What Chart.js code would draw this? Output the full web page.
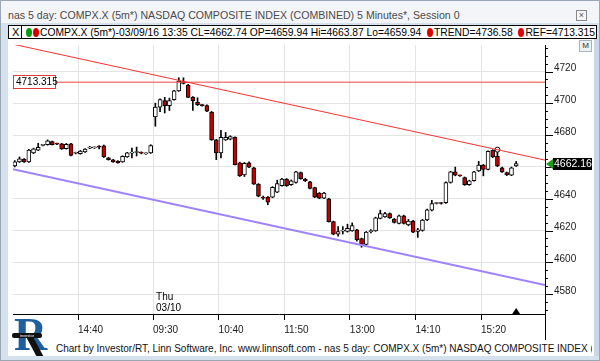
<!DOCTYPE html>
<html><head><meta charset="utf-8">
<script src="https://cdn.jsdelivr.net/npm/chart.js@4/dist/chart.umd.min.js"></script>
<style>
html,body{margin:0;padding:0;}
body{width:600px;height:361px;position:relative;overflow:hidden;background:#d5e1ed;font-family:"Liberation Sans",Arial,sans-serif;}
#outer{position:absolute;left:0;top:0;width:598px;height:359px;border:1px solid #9aa7b4;}
#titlebar{position:absolute;left:1px;top:1px;width:598px;height:22px;background:#f3f5f8;}
#title{position:absolute;left:8px;top:9px;font-size:10.6px;color:#4a4a4a;white-space:nowrap;}
#close{position:absolute;left:576px;top:10px;width:9px;height:9px;border:1px solid #888;font-size:9px;line-height:9px;text-align:center;color:#555;background:#f7f7f7;}
#legend{position:absolute;left:8px;top:25px;width:584px;height:12px;border:1px solid #000;background:#fff;font-size:10.3px;line-height:12px;white-space:nowrap;overflow:hidden;padding-left:3px;box-sizing:content-box;}
#legend .x{display:inline-block;width:9px;border-right:1px solid #000;margin-right:4px;font-size:11px;}
.dot{display:inline-block;width:6px;height:9px;border-radius:50%;vertical-align:-1px;margin-right:1px;}
#panel{position:absolute;left:8px;top:39px;width:586px;height:317px;background:#fff;}
#canvasWrap{position:absolute;left:8px;top:40px;width:586px;height:300px;}
#mbtn{position:absolute;left:579px;top:40px;width:11px;height:10px;border:1px solid #a9b4bf;background:#eef1f4;font-size:8px;line-height:10px;text-align:center;color:#333;}
#rstrip{position:absolute;left:594px;top:39px;width:5px;height:317px;background:#c9d8e8;}
#vline{position:absolute;left:545px;top:314px;width:1px;height:26px;background:#000;}
#footer{position:absolute;left:56px;top:343px;font-size:10px;color:#111;white-space:nowrap;width:536px;overflow:hidden;}
#logoR{position:absolute;left:14px;top:312px;font:bold 46px "Liberation Serif",serif;color:#1f5f9e;line-height:46px;}
#logoLeg{position:absolute;left:31px;top:336px;width:7px;height:20px;background:#111;transform:skewX(28deg);}
#logoBar{position:absolute;left:12px;top:333px;width:30px;height:5px;background:#111;border-radius:2px;font-size:4px;line-height:5px;color:#fff;text-align:center;}
</style></head>
<body>
<div id="outer"></div>
<div id="titlebar"></div>
<div id="title">nas 5 day: COMPX.X (5m*) NASDAQ COMPOSITE INDEX (COMBINED) 5 Minutes*, Session 0</div>
<div id="close">×</div>
<div id="legend"><span class="x">X</span><span class="dot" style="background:#0a9a0a;"></span><span class="dot" style="background:#d40000;"></span>COMPX.X (5m*)-03/09/16 13:35 CL=4662.74 OP=4659.94 Hi=4663.87 Lo=4659.94&nbsp;&nbsp;<span class="dot" style="background:#e00000;"></span>TREND=4736.58&nbsp;&nbsp;<span class="dot" style="background:#e00000;"></span>REF=4713.315</div>
<div id="panel"></div>
<div id="rstrip"></div>
<div id="canvasWrap"><canvas id="c" width="586" height="300"></canvas></div>
<div id="mbtn">M</div>
<div id="vline"></div>
<div id="logoR">R</div>
<div id="logoLeg"></div>
<div id="logoBar">investor</div>
<div id="footer">Chart by Investor/RT, Linn Software, Inc. www.linnsoft.com - nas 5 day: COMPX.X (5m*) NASDAQ COMPOSITE INDEX (COMBINED) 5 Minutes*, Session 0</div>
<script>
// 5-minute bars: 03/09 13:30..15:55 (30 bars) then 03/10 09:30..15:55 (78 bars)
const opens = [4660.6,4663.2,4664.9,4663.2,4668.8,4670.6,4673.6,4674.0,4675.9,4674.6,4674.5,4671.5,4674.5,4668.6,4668.3,4669.4,4671.8,4672.0,4672.6,4673.3,4665.7,4664.4,4663.6,4663.2,4666.3,4668.7,4669.1,4668.9,4668.2,4668.8,
4691.4,4697.6,4701.7,4698.6,4702.3,4707.8,4713.5,4711.5,4703.8,4700.7,4698.8,4698.6,4694.5,4677.0,4668.8,4677.0,4677.4,4678.6,4662.6,4655.0,4662.6,4659.5,4649.2,4640.6,4641.0,4641.0,4644.1,4648.2,4652.3,4648.8,
4650.2,4656.4,4652.3,4650.7,4647.0,4643.6,4640.4,4639.9,4625.6,4617.7,4619.6,4619.4,4619.8,4620.4,4614.9,4611.2,4619.3,4619.8,4627.6,4628.6,4630.7,4627.2,4624.5,4629.3,4623.5,4626.0,4619.4,4620.0,4626.6,4632.8,
4637.0,4637.2,4637.5,4650.2,4656.9,4654.5,4653.3,4648.8,4651.3,4657.5,4661.2,4658.5,4670.4,4666.7,4659.5,4656.4,4654.8,4660.6];
const highs = [4664.0,4666.3,4665.3,4671.0,4671.8,4674.9,4674.3,4677.0,4676.3,4675.0,4674.8,4674.8,4674.9,4669.3,4670.4,4671.6,4673.0,4672.6,4673.5,4673.8,4666.0,4664.8,4664.0,4667.0,4669.2,4671.9,4672.5,4669.5,4668.9,4674.0,
4700.1,4702.8,4703.8,4703.3,4708.2,4716.1,4716.1,4712.0,4704.2,4703.5,4699.3,4699.0,4694.9,4677.3,4683.1,4681.7,4679.6,4679.0,4663.0,4662.8,4663.2,4659.8,4649.5,4641.6,4641.4,4647.6,4651.7,4652.8,4652.7,4651.8,
4657.3,4656.8,4652.8,4651.0,4647.3,4643.9,4644.0,4640.3,4625.9,4622.5,4622.5,4624.0,4624.8,4620.8,4615.2,4619.4,4620.6,4628.4,4632.8,4631.5,4631.1,4627.6,4629.7,4629.7,4627.0,4626.4,4621.4,4627.0,4633.5,4639.0,
4637.6,4637.6,4650.6,4657.3,4659.9,4654.9,4653.7,4651.7,4657.3,4663.5,4661.6,4670.2,4670.8,4670.4,4659.9,4656.8,4659.9,4663.5];
const lows = [4660.0,4662.8,4662.8,4662.9,4668.3,4670.3,4673.2,4673.7,4673.8,4674.0,4671.0,4671.2,4667.0,4668.2,4668.0,4669.1,4671.5,4671.6,4671.3,4666.0,4664.3,4662.9,4662.3,4662.9,4666.0,4665.7,4666.9,4668.2,4667.8,4668.5,
4685.6,4694.7,4693.9,4695.5,4702.0,4707.5,4712.2,4703.5,4695.5,4698.6,4698.2,4694.8,4676.7,4664.6,4665.7,4676.7,4677.0,4661.2,4654.0,4654.0,4659.5,4649.0,4641.2,4639.5,4636.2,4640.6,4643.8,4647.9,4647.8,4648.4,
4649.8,4652.3,4650.8,4646.2,4640.7,4640.0,4640.0,4625.3,4617.3,4616.5,4617.8,4619.0,4619.5,4613.3,4609.5,4610.8,4618.5,4619.5,4627.3,4628.2,4627.6,4624.7,4624.1,4624.1,4623.0,4618.6,4615.7,4619.6,4626.2,4632.4,
4636.7,4636.6,4637.1,4649.8,4654.4,4654.0,4648.4,4648.4,4651.0,4657.1,4654.4,4658.1,4665.9,4660.2,4656.5,4654.6,4654.5,4660.3];
const closes = [4663.2,4665.1,4663.2,4670.6,4671.4,4672.3,4673.8,4676.5,4674.0,4674.4,4671.4,4674.2,4667.3,4668.8,4670.0,4671.2,4672.0,4672.2,4672.4,4666.3,4664.6,4663.2,4662.6,4666.7,4668.8,4668.9,4669.3,4668.7,4668.4,4673.5,
4697.6,4702.3,4698.6,4701.7,4707.8,4714.0,4712.6,4703.8,4701.7,4699.2,4698.6,4695.1,4677.0,4668.8,4678.6,4678.6,4679.1,4661.5,4654.4,4662.2,4659.9,4649.2,4641.6,4640.4,4637.9,4647.2,4649.6,4652.3,4648.2,4651.3,
4656.9,4652.7,4651.3,4646.5,4641.0,4640.4,4643.6,4625.6,4617.7,4619.4,4619.8,4621.4,4623.1,4614.3,4611.2,4619.0,4619.5,4628.0,4630.7,4630.7,4628.0,4625.1,4629.3,4624.5,4626.0,4619.0,4620.4,4626.6,4633.1,4636.9,
4637.2,4637.0,4650.2,4656.9,4654.8,4654.4,4648.8,4651.3,4656.9,4661.2,4658.5,4669.8,4666.3,4660.6,4656.9,4655.0,4659.5,4662.16];

const xTickIndex  = [14, 30, 44, 58, 72, 86, 100];
const xTickLabels = ["14:40","09:30","10:40","11:50","13:00","14:10","15:20"];
const xRange = [-0.38, 113.15];
const yRange = [4567.5, 4736.7];
const trendEnds   = [4737.2, 4664.3];   // red trend line at left / right edge
const channelEnds = [4658.6, 4585.7];   // purple channel line at left / right edge
const refLevel  = 4713.315;
const lastPrice = 4662.16;
const markerPoint = {x: 103, y: 4670.9};
const dayLabel = ["Thu", "03/10"];
const lastBarIndex = 107;

const wickData = lows.map((l, i) => ({x: i, y: [l, highs[i]]}));
const bodyData = opens.map((o, i) => ({x: i, y: [Math.min(o, closes[i]), Math.max(o, closes[i])]}));
const bodyColors = opens.map((o, i) => closes[i] >= o ? '#ffffff' : '#c40000');

const overlay = {
  id: 'overlay',
  afterDraw(chart) {
    const ctx = chart.ctx, ca = chart.chartArea;
    const xs = chart.scales.x, ys = chart.scales.y;
    ctx.save();
    ctx.strokeStyle = '#000'; ctx.lineWidth = 1;
    for (const t of ys.ticks) {
      const py = Math.round(ys.getPixelForValue(t.value)) + 0.5;
      const len = (t.value % 20 === 0) ? 8 : 3;
      ctx.beginPath(); ctx.moveTo(ca.right, py); ctx.lineTo(ca.right + len, py); ctx.stroke();
    }
    let py = Math.round(ys.getPixelForValue(refLevel));
    ctx.fillStyle = '#fff'; ctx.fillRect(ca.left + 0.5, py - 6.5, 42, 13);
    ctx.strokeStyle = '#e43b3b'; ctx.strokeRect(ca.left + 0.5, py - 6.5, 42, 13);
    ctx.fillStyle = '#000'; ctx.font = '10px "Liberation Sans"'; ctx.textBaseline = 'middle';
    ctx.fillText(refLevel.toFixed(3), ca.left + 3, py + 0.5);
    py = Math.round(ys.getPixelForValue(lastPrice));
    ctx.fillStyle = '#18a018';
    ctx.beginPath(); ctx.moveTo(ca.right + 1, py); ctx.lineTo(ca.right + 8, py - 5); ctx.lineTo(ca.right + 8, py + 5); ctx.closePath(); ctx.fill();
    ctx.fillStyle = '#000'; ctx.fillRect(ca.right + 8, py - 6, 39, 12);
    ctx.fillStyle = '#fff'; ctx.font = '10.5px "Liberation Sans"';
    ctx.fillText(lastPrice.toFixed(2), ca.right + 9, py + 0.5);
    const dx = xs.getPixelForValue(29.5) + 3;
    ctx.fillStyle = '#000'; ctx.font = '10px "Liberation Sans"'; ctx.textBaseline = 'alphabetic';
    ctx.fillText(dayLabel[0], dx, ca.bottom - 14);
    ctx.fillText(dayLabel[1], dx, ca.bottom - 3);
    const tx = xs.getPixelForValue(lastBarIndex);
    ctx.beginPath(); ctx.moveTo(tx - 4, ca.bottom); ctx.lineTo(tx + 4, ca.bottom); ctx.lineTo(tx, ca.bottom - 6); ctx.closePath(); ctx.fill();
    ctx.restore();
  }
};

new Chart(document.getElementById('c'), {
  type: 'bar',
  data: {
    datasets: [
      {type: 'line', data: [{x: xRange[0], y: trendEnds[0]}, {x: xRange[1], y: trendEnds[1]}], borderColor: '#ff3030', borderWidth: 1, pointRadius: 0, order: 0},
      {type: 'line', data: [{x: xRange[0], y: channelEnds[0]}, {x: xRange[1], y: channelEnds[1]}], borderColor: '#9f82ff', borderWidth: 2, pointRadius: 0, order: 0},
      {type: 'line', data: [{x: xRange[0], y: refLevel}, {x: xRange[1], y: refLevel}], borderColor: '#f04444', borderWidth: 1, pointRadius: 0, order: 0},
      {type: 'line', data: [markerPoint], showLine: false, pointRadius: 2.5, pointBackgroundColor: '#fff', pointBorderColor: '#000', pointBorderWidth: 1, order: 0},
      {data: bodyData, backgroundColor: bodyColors, borderColor: '#000', borderWidth: 1, borderSkipped: false, barThickness: 4, minBarLength: 1, grouped: false, order: 1},
      {data: wickData, backgroundColor: '#000', borderWidth: 0, barThickness: 1, grouped: false, order: 2}
    ]
  },
  options: {
    responsive: false, animation: false, devicePixelRatio: 1,
    layout: {padding: 0},
    plugins: {legend: {display: false}, tooltip: {enabled: false}},
    scales: {
      x: {
        type: 'linear', min: xRange[0], max: xRange[1], position: 'bottom', offset: false,
        afterBuildTicks: s => { s.ticks = xTickIndex.map(v => ({value: v - 0.5})); },
        afterFit: s => { s.height = 26; s.paddingLeft = 0; s.paddingRight = 0; },
        ticks: {callback: (v, i) => xTickLabels[i], align: 'start', maxRotation: 0, autoSkip: false, padding: 4, font: {family: 'Liberation Sans', size: 10}, color: '#222'},
        grid: {offset: false, color: '#e4e4e4', tickColor: '#000', tickLength: 6},
        border: {color: '#000'}
      },
      y: {
        position: 'right', min: yRange[0], max: yRange[1],
        afterBuildTicks: s => { const t = []; for (let v = 4570; v <= 4735; v += 5) t.push({value: v}); s.ticks = t; },
        afterFit: s => { s.width = 49; s.paddingTop = 0; s.paddingBottom = 0; },
        ticks: {callback: v => (v % 20 === 0 ? String(v) : ''), autoSkip: false, padding: 9, labelOffset: -3, font: {family: 'Liberation Sans', size: 10}, color: '#222'},
        grid: {color: c => (c.tick && c.tick.value % 20 === 0) ? '#e4e4e4' : 'rgba(0,0,0,0)', drawTicks: false},
        border: {color: '#000'}
      }
    }
  },
  plugins: [overlay]
});
</script>
</body></html>
